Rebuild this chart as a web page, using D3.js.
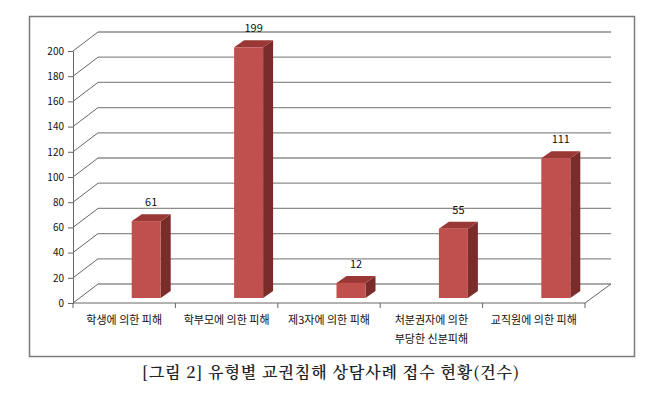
<!DOCTYPE html>
<html>
<head>
<meta charset="utf-8">
<script src="https://cdn.jsdelivr.net/npm/d3@7"></script>
<style>
  body { margin: 0; background: #fff; }
  svg text { font-family: "Noto Sans CJK KR", "Noto Sans", sans-serif; }
</style>
</head>
<body>
<script>
// chart data
var categories = ["학생에 의한 피해", "학부모에 의한 피해", "제3자에 의한 피해", "처분권자에 의한\n부당한 신분피해", "교직원에 의한 피해"];
var values = [61, 199, 12, 55, 111];
var yTicks = [0, 20, 40, 60, 80, 100, 120, 140, 160, 180, 200];
var caption = "[그림 2] 유형별 교권침해 상담사례 접수 현황(건수)";

var width = 658, height = 404;
// depth of the 3d box
var wallDx = 25, wallDy = -19;
// bar geometry
var barW = 29, barDx = 10, barDy = -7, barLift = 5, barShift = 7.5;

var svg = d3.select('body').append('svg')
  .attr('width', width)
  .attr('height', height);

// outer frame
svg.append('rect')
  .attr('x', 29.5).attr('y', 16.5)
  .attr('width', 605).attr('height', 340)
  .attr('fill', 'none')
  .attr('stroke', '#7a7a7a')
  .attr('stroke-width', 1.5);

var x = d3.scaleBand().domain(categories).range([73, 585]);
var y = d3.scaleLinear().domain([0, 200]).range([303, 51]);

var x0 = x.range()[0], x1 = x.range()[1];

// back wall gridlines + diagonal wall lines
var grid = svg.append('g');
grid.selectAll('line.back')
  .data(yTicks)
  .enter().append('line')
  .attr('x1', x0 + wallDx).attr('x2', x1 + wallDx + 1)
  .attr('y1', d => y(d) + wallDy).attr('y2', d => y(d) + wallDy)
  .attr('stroke', '#8c8c8c').attr('stroke-width', 1.3);
grid.selectAll('line.side')
  .data(yTicks)
  .enter().append('line')
  .attr('x1', x0).attr('x2', x0 + wallDx)
  .attr('y1', d => y(d)).attr('y2', d => y(d) + wallDy)
  .attr('stroke', '#666').attr('stroke-width', 1);

// floor right edge
svg.append('line')
  .attr('x1', x1).attr('y1', y(0))
  .attr('x2', x1 + wallDx + 1).attr('y2', y(0) + wallDy)
  .attr('stroke', '#666').attr('stroke-width', 1);

// y axis
var yAxis = d3.axisLeft(y).tickValues(yTicks).tickSize(5).tickPadding(4);
var gy = svg.append('g')
  .attr('transform', 'translate(' + x0 + ',0)')
  .call(yAxis);
gy.select('.domain').attr('stroke', '#666');
gy.selectAll('.tick line').attr('stroke', '#666');
gy.selectAll('.tick text').attr('font-size', 10).attr('fill', '#111');

// x axis line and boundary ticks
svg.append('line')
  .attr('x1', x0).attr('x2', x1)
  .attr('y1', y(0)).attr('y2', y(0))
  .attr('stroke', '#666');
var bounds = categories.map(c => x(c)).concat([x1]);
svg.selectAll('line.xtick')
  .data(bounds)
  .enter().append('line')
  .attr('x1', d => d).attr('x2', d => d)
  .attr('y1', y(0)).attr('y2', y(0) + 5)
  .attr('stroke', '#666');

// category labels
var labels = svg.selectAll('text.cat')
  .data(categories)
  .enter().append('text')
  .attr('text-anchor', 'middle')
  .attr('font-size', 11)
  .attr('fill', '#111')
  .attr('transform', d => 'translate(' + (x(d) + x.bandwidth() / 2) + ',' + 324 + ')');
labels.selectAll('tspan')
  .data(d => d.split('\n'))
  .enter().append('tspan')
  .attr('x', 0)
  .attr('dy', (d, i) => i === 0 ? 0 : 19)
  .text(d => d);

// bars
var bars = svg.selectAll('g.bar')
  .data(categories.map((c, i) => ({ c: c, v: values[i] })))
  .enter().append('g');

function bx(d) { return x(d.c) + x.bandwidth() / 2 + barShift; }
function by0() { return y(0) - barLift; }
function by1(d) { return y(d.v) - barLift; }

// side
bars.append('path')
  .attr('d', d => {
    var l = bx(d) + barW, t = by1(d), b = by0();
    return 'M' + l + ',' + b + 'L' + l + ',' + t + 'L' + (l + barDx) + ',' + (t + barDy) +
      'L' + (l + barDx) + ',' + (b + barDy) + 'Z';
  })
  .attr('fill', '#7a2c2b');
// top
bars.append('path')
  .attr('d', d => {
    var l = bx(d), t = by1(d);
    return 'M' + l + ',' + t + 'L' + (l + barDx) + ',' + (t + barDy) + 'L' + (l + barW + barDx) + ',' + (t + barDy) +
      'L' + (l + barW) + ',' + t + 'Z';
  })
  .attr('fill', '#9a3835');
// front
bars.append('rect')
  .attr('x', d => bx(d))
  .attr('y', d => by1(d))
  .attr('width', barW)
  .attr('height', d => by0() - by1(d))
  .attr('fill', '#c0504d');

// value labels
bars.append('text')
  .attr('x', d => bx(d) + (barW + barDx) / 2)
  .attr('y', d => by1(d) + barDy - 8)
  .attr('text-anchor', 'middle')
  .attr('font-size', 11)
  .attr('fill', '#111')
  .text(d => d.v);

// caption
svg.append('text')
  .attr('x', 331)
  .attr('y', 378)
  .attr('text-anchor', 'middle')
  .attr('font-size', 16)
  .attr('font-weight', 600)
  .attr('letter-spacing', 0.9)
  .style('font-family', '"Noto Serif CJK KR", "DejaVu Serif", "Noto Sans CJK KR", serif')
  .attr('fill', '#222')
  .text(caption);
</script>
</body>
</html>
